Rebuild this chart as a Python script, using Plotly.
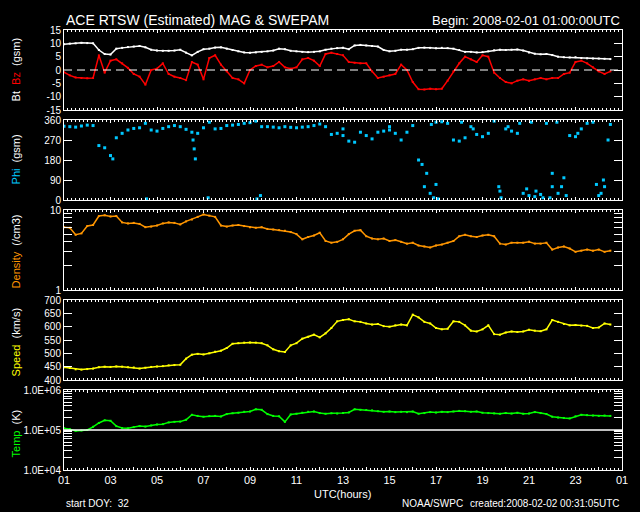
import plotly.graph_objects as go

# ---------------- data (hours since 2008-02-01 01:00 UTC, 15-min samples) -------------
hours = [i * 0.25 for i in range(95)]

bt = [9.7, 9.9, 10.0, 10.2, 10.1, 10.0, 7.5, 6.0, 5.8, 8.0, 8.3, 8.6, 8.8, 9.0, 8.5, 7.6,
      7.3, 7.2, 7.2, 7.3, 7.6, 6.5, 5.5, 6.8, 7.8, 8.0, 8.4, 8.5, 8.0, 7.5, 7.0, 6.6,
      6.5, 6.6, 6.8, 7.0, 7.3, 8.0, 7.8, 7.2, 7.0, 6.8, 6.7, 6.8, 7.0, 7.6, 8.0, 8.2,
      8.3, 7.8, 9.2, 9.4, 9.2, 9.0, 8.8, 7.5, 7.0, 7.2, 7.6, 7.6, 7.8, 8.3, 8.4, 8.3,
      8.2, 8.3, 8.2, 8.0, 7.5, 6.8, 6.8, 6.6, 6.7, 7.0, 7.4, 7.6, 7.5, 7.6, 7.7, 7.3,
      6.6, 6.1, 5.9, 6.0, 5.6, 5.0, 4.8, 4.7, 4.8, 4.5, 4.4, 4.3, 4.3, 4.2, 4.1]

bz = [-0.8, -2.0, -2.8, -3.0, -3.1, -3.0, 5.5, -1.0, 3.5, 4.0, 2.5, 0.8, -1.5, -2.5, -5.5, 0.0,
      0.5, 2.5, -1.5, -2.5, -3.0, -3.8, 3.0, 2.0, -3.5, 4.5, 5.5, 2.0, -0.5, -3.0, -3.5, -5.0,
      0.0, 1.5, 2.0, 1.0, 1.5, 3.0, 1.0, 0.5, 1.0, 4.0, 4.5, 3.5, 1.5, 6.0, 6.5, 6.0,
      5.5, 3.0, 2.7, 2.5, 2.5, -0.5, -3.0, -2.5, -2.0, -1.5, 2.0, 0.0, -4.5, -7.2, -7.3, -7.0,
      -7.2, -7.0, -4.0, -0.5, 2.5, 5.0, 4.0, 3.0, 5.5, 5.0, -1.0, -3.0, -4.5, -5.0, -4.0, -3.5,
      -4.0, -3.5, -3.0, -3.5, -3.0, -3.0, -1.5, -1.0, 3.0, 3.5, 2.5, 1.0, -0.5, -1.5, -0.5]

phi = [332, 330, 328, 333, 337, 335, 245, 235, 200, 280, 300, 315, 322, 325, 345, 315,
       310, 322, 330, 335, 330, 318, 305, 300, 325, 350, 320, 322, 335, 337, 340, 345,
       348, 355, 330, 330, 328, 325, 330, 327, 325, 328, 330, 335, 342, 330, 295, 300,
       290, 265, 260, 305, 290, 275, 305, 310, 315, 300, 270, 305, 335, 180, 60, 30,
       350, 352, 345, 270, 265, 280, 330, 295, 285, 300, 355, 40, 320, 310, 300, 30,
       20, 15, 25, 345, 60, 30, 100, 290, 285, 320, 345, 350, 20, 60, 340]

phi_extra_hours = [2.1, 3.55, 5.6, 5.65, 5.55, 6.2, 8.3, 8.45, 15.4, 15.6, 15.9, 16.1,
                   15.8, 16.0, 18.7, 18.8, 19.9, 20.1, 20.3, 20.6, 20.9, 21.0, 21.2, 21.4,
                   21.6, 22.9, 23.1, 23.2, 23.4, 17.1, 19.1, 14.0, 12.0, 17.6, 19.6, 22.1]
phi_extra_values = [185, 5, 230, 185, 270, 10, 5, 20, 160, 120, 10, 5,
                    340, 70, 60, 10, 50, 350, 40, 10, 10, 120, 350, 60,
                    20, 70, 30, 90, 270, 350, 330, 330, 320, 320, 345, 300]

density = [6.1, 6.0, 4.9, 5.1, 6.3, 6.5, 8.4, 8.6, 8.3, 8.4, 7.0, 6.8, 6.9, 6.7, 6.1, 6.2,
           6.4, 6.8, 7.0, 6.9, 6.6, 7.2, 7.6, 8.2, 8.8, 8.5, 8.2, 6.4, 6.2, 6.4, 6.5, 6.3,
           6.1, 6.0, 6.1, 5.8, 5.7, 5.6, 5.5, 5.3, 5.0, 4.3, 4.6, 4.8, 5.2, 4.1, 3.9, 4.0,
           4.3, 5.0, 5.5, 5.6, 4.7, 4.4, 4.3, 4.4, 4.1, 4.2, 4.0, 3.8, 3.9, 3.6, 3.5, 3.4,
           3.6, 3.7, 3.9, 4.1, 4.7, 4.9, 4.7, 4.6, 4.8, 4.9, 4.7, 3.8, 3.7, 3.9, 3.9, 3.9,
           4.0, 3.8, 3.8, 3.9, 3.2, 3.4, 3.5, 3.3, 3.0, 3.1, 3.2, 3.1, 3.2, 3.0, 3.1]

speed = [448, 445, 440, 439, 441, 443, 448, 450, 449, 451, 450, 448, 447, 443, 446, 449,
         451, 452, 455, 456, 457, 480, 495, 498, 496, 500, 506, 510, 520, 536, 538, 540,
         541, 540, 538, 530, 515, 508, 505, 530, 538, 555, 562, 570, 560, 575, 595, 620,
         625, 628, 620, 618, 612, 608, 610, 602, 600, 605, 608, 605, 645, 635, 618, 612,
         595, 590, 592, 620, 618, 605, 585, 582, 590, 605, 572, 570, 578, 582, 580, 582,
         588, 585, 583, 590, 625, 618, 610, 605, 606, 604, 603, 595, 597, 612, 608]

temp = [110000, 105000, 95000, 97000, 100000, 120000, 150000, 175000, 170000, 125000,
        112000, 110000, 118000, 125000, 122000, 130000, 138000, 140000, 155000, 160000,
        162000, 180000, 240000, 225000, 215000, 222000, 225000, 218000, 250000, 262000,
        270000, 285000, 290000, 330000, 320000, 250000, 225000, 220000, 160000, 245000,
        255000, 270000, 285000, 290000, 265000, 255000, 262000, 258000, 265000, 275000,
        330000, 320000, 315000, 310000, 295000, 285000, 290000, 280000, 285000, 280000,
        290000, 255000, 265000, 280000, 275000, 285000, 280000, 290000, 300000, 295000,
        285000, 290000, 270000, 265000, 260000, 255000, 265000, 258000, 270000, 255000,
        260000, 280000, 265000, 250000, 215000, 205000, 200000, 195000, 220000, 240000,
        235000, 230000, 225000, 230000, 225000]

x_tick_vals = list(range(0, 25))
x_tick_text = ["01", "", "03", "", "05", "", "07", "", "09", "", "11", "", "13", "",
               "15", "", "17", "", "19", "", "21", "", "23", "", "01"]

# ---------------- colours ----------------
C_BT = "#ffffff"
C_BZ = "#ff0000"
C_PHI = "#00c8ff"
C_DEN = "#ff9600"
C_SPD = "#ffff00"
C_TMP = "#00ff00"
FONT = "Liberation Sans"

W, H = 640, 512
ML, MR, MT, MB = 64, 13, 30, 42
PW, PH = W - ML - MR, H - MT - MB


def ydom(top_px, bot_px):
    return [(H - MB - bot_px) / PH, (H - MB - top_px) / PH]


domains = [ydom(30, 110), ydom(120, 200), ydom(210, 290), ydom(300, 380), ydom(390, 470)]

fig = go.Figure()

mk = dict(symbol="square", size=2)
LW = 1.5
fig.add_trace(go.Scatter(x=hours, y=bt, mode="lines+markers", line=dict(color=C_BT, width=LW),
                         marker=dict(color=C_BT, **mk), xaxis="x", yaxis="y"))
fig.add_trace(go.Scatter(x=hours, y=bz, mode="lines+markers", line=dict(color=C_BZ, width=LW),
                         marker=dict(color=C_BZ, **mk), xaxis="x", yaxis="y"))
fig.add_trace(go.Scatter(x=hours, y=phi, mode="markers",
                         marker=dict(color=C_PHI, symbol="square", size=3), xaxis="x2", yaxis="y2"))
fig.add_trace(go.Scatter(x=phi_extra_hours, y=phi_extra_values, mode="markers",
                         marker=dict(color=C_PHI, symbol="square", size=3), xaxis="x2", yaxis="y2"))
fig.add_trace(go.Scatter(x=hours, y=density, mode="lines+markers", line=dict(color=C_DEN, width=LW),
                         marker=dict(color=C_DEN, **mk), xaxis="x3", yaxis="y3"))
fig.add_trace(go.Scatter(x=hours, y=speed, mode="lines+markers", line=dict(color=C_SPD, width=LW),
                         marker=dict(color=C_SPD, **mk), xaxis="x4", yaxis="y4"))
fig.add_trace(go.Scatter(x=hours, y=temp, mode="lines+markers", line=dict(color=C_TMP, width=LW),
                         marker=dict(color=C_TMP, **mk), xaxis="x5", yaxis="y5"))
# invisible trace to hold the right-hand tick axis of the top panel
fig.add_trace(go.Scatter(x=[0], y=[0], mode="markers", marker=dict(size=1, opacity=0),
                         xaxis="x", yaxis="y6", hoverinfo="skip"))

tickfont = dict(family=FONT, size=10, color="white")

xbase = dict(range=[0, 24], tickmode="array", tickvals=x_tick_vals, ticktext=x_tick_text,
             ticks="inside", ticklen=3, tickwidth=1, tickcolor="white",
             minor=dict(dtick=1 / 6, ticks="inside", ticklen=2, tickcolor="white", tickwidth=1),
             showline=True, linecolor="white", linewidth=1, mirror="ticks",
             showgrid=False, zeroline=False,
             tickfont=dict(family=FONT, size=11, color="white"))

ybase = dict(ticks="inside", ticklen=8, tickwidth=1, tickcolor="white",
             showline=True, linecolor="white", linewidth=1, mirror="ticks",
             showgrid=False, zeroline=False, tickfont=tickfont, tickmode="array")

layout = dict(width=W, height=H, paper_bgcolor="black", plot_bgcolor="black",
              margin=dict(l=ML, r=MR, t=MT, b=MB), showlegend=False,
              font=dict(family=FONT, color="white"))

for i in range(5):
    suffix = "" if i == 0 else str(i + 1)
    xa = dict(xbase)
    xa["anchor"] = "y" + suffix
    if i > 0:
        xa["matches"] = "x"
    xa["showticklabels"] = (i == 4)
    layout["xaxis" + suffix] = xa

y1 = dict(ybase, range=[-15, 15], tickvals=[-15, -10, -5, 0, 5, 10, 15],
          ticktext=["-15", "-10", "-5", "0", "5", "10", "15"], ticks="", mirror=True,
          domain=domains[0], anchor="x")
y6 = dict(overlaying="y", side="right", anchor="x", range=[-15, 15],
          tickmode="array", tickvals=[-10, -5, 0, 5, 10], ticks="inside", ticklen=8,
          tickcolor="white", tickwidth=1, showticklabels=False, showline=False,
          showgrid=False, zeroline=False)
y2 = dict(ybase, range=[0, 360], tickvals=[0, 90, 180, 270, 360],
          ticktext=["0", "90", "180", "270", "360"], domain=domains[1], anchor="x2")
den_ticks = [1, 2, 3, 4, 5, 6, 7, 8, 9, 10]
y3 = dict(ybase, type="log", range=[0, 1], tickvals=den_ticks,
          ticktext=["1", "", "", "", "", "", "", "", "", "10"], domain=domains[2], anchor="x3")
spd_ticks = [400, 450, 500, 550, 600, 650, 700]
y4 = dict(ybase, range=[400, 700], tickvals=spd_ticks,
          ticktext=[str(v) for v in spd_ticks], domain=domains[3], anchor="x4")
tmp_ticks = [m * 10 ** e for e in (4, 5) for m in range(1, 10)] + [10 ** 6]
tmp_text = ["1.0E+04"] + [""] * 8 + ["1.0E+05"] + [""] * 8 + ["1.0E+06"]
y5 = dict(ybase, type="log", range=[4, 6], tickvals=tmp_ticks, ticktext=tmp_text,
          domain=domains[4], anchor="x5", tickfont=dict(family=FONT, size=10, color="white"))

layout.update(yaxis=y1, yaxis2=y2, yaxis3=y3, yaxis4=y4, yaxis5=y5, yaxis6=y6)

layout["shapes"] = [
    dict(type="line", xref="x domain", yref="y", x0=0, x1=1, y0=0, y1=0,
         line=dict(color="white", width=1, dash="8px,5px")),
    dict(type="line", xref="x5 domain", yref="y5", x0=0, x1=1, y0=100000, y1=100000,
         line=dict(color="white", width=1.5)),
]


def px_x(px):
    return (px - ML) / PW


def px_y(py):
    return (H - MB - py) / PH


ann = []
ann.append(dict(text="ACE RTSW (Estimated) MAG &amp; SWEPAM", x=px_x(64), y=px_y(20),
                xanchor="left", yanchor="middle", font=dict(size=14)))
ann.append(dict(text="Begin: 2008-02-01 01:00:00UTC", x=px_x(627), y=px_y(20),
                xanchor="right", yanchor="middle", font=dict(size=13)))
ann.append(dict(text="UTC(hours)", x=px_x(345), y=px_y(494), xanchor="center",
                yanchor="middle", font=dict(size=11)))
ann.append(dict(text="start DOY:  32", x=px_x(64), y=px_y(504), xanchor="left",
                yanchor="middle", font=dict(size=10)))
ann.append(dict(text="NOAA/SWPC", x=px_x(403), y=px_y(504), xanchor="left",
                yanchor="middle", font=dict(size=10)))
ann.append(dict(text="created:2008-02-02 00:31:05UTC", x=px_x(627), y=px_y(504),
                xanchor="right", yanchor="middle", font=dict(size=10)))

ylabels = [
    ("Bt  <span style='color:%s'>Bz</span>  (gsm)" % C_BZ, 69),
    ("<span style='color:%s'>Phi</span>  (gsm)" % C_PHI, 159),
    ("<span style='color:%s'>Density</span>  (/cm3)" % C_DEN, 251),
    ("<span style='color:%s'>Speed</span>  (km/s)" % C_SPD, 342),
    ("<span style='color:%s'>Temp</span>  (K)" % C_TMP, 433),
]
for txt, yc in ylabels:
    ann.append(dict(text=txt, x=px_x(16), y=px_y(yc), xanchor="center", yanchor="middle",
                    textangle=-90, font=dict(size=11)))

for a in ann:
    a.update(xref="paper", yref="paper", showarrow=False)
    a["font"] = dict(family=FONT, color="white", **a["font"])
layout["annotations"] = ann

fig.update_layout(**layout)
fig.write_html("out.html", config={"displayModeBar": False},
               post_script="document.body.style.margin='0px';document.body.style.background='black';")
